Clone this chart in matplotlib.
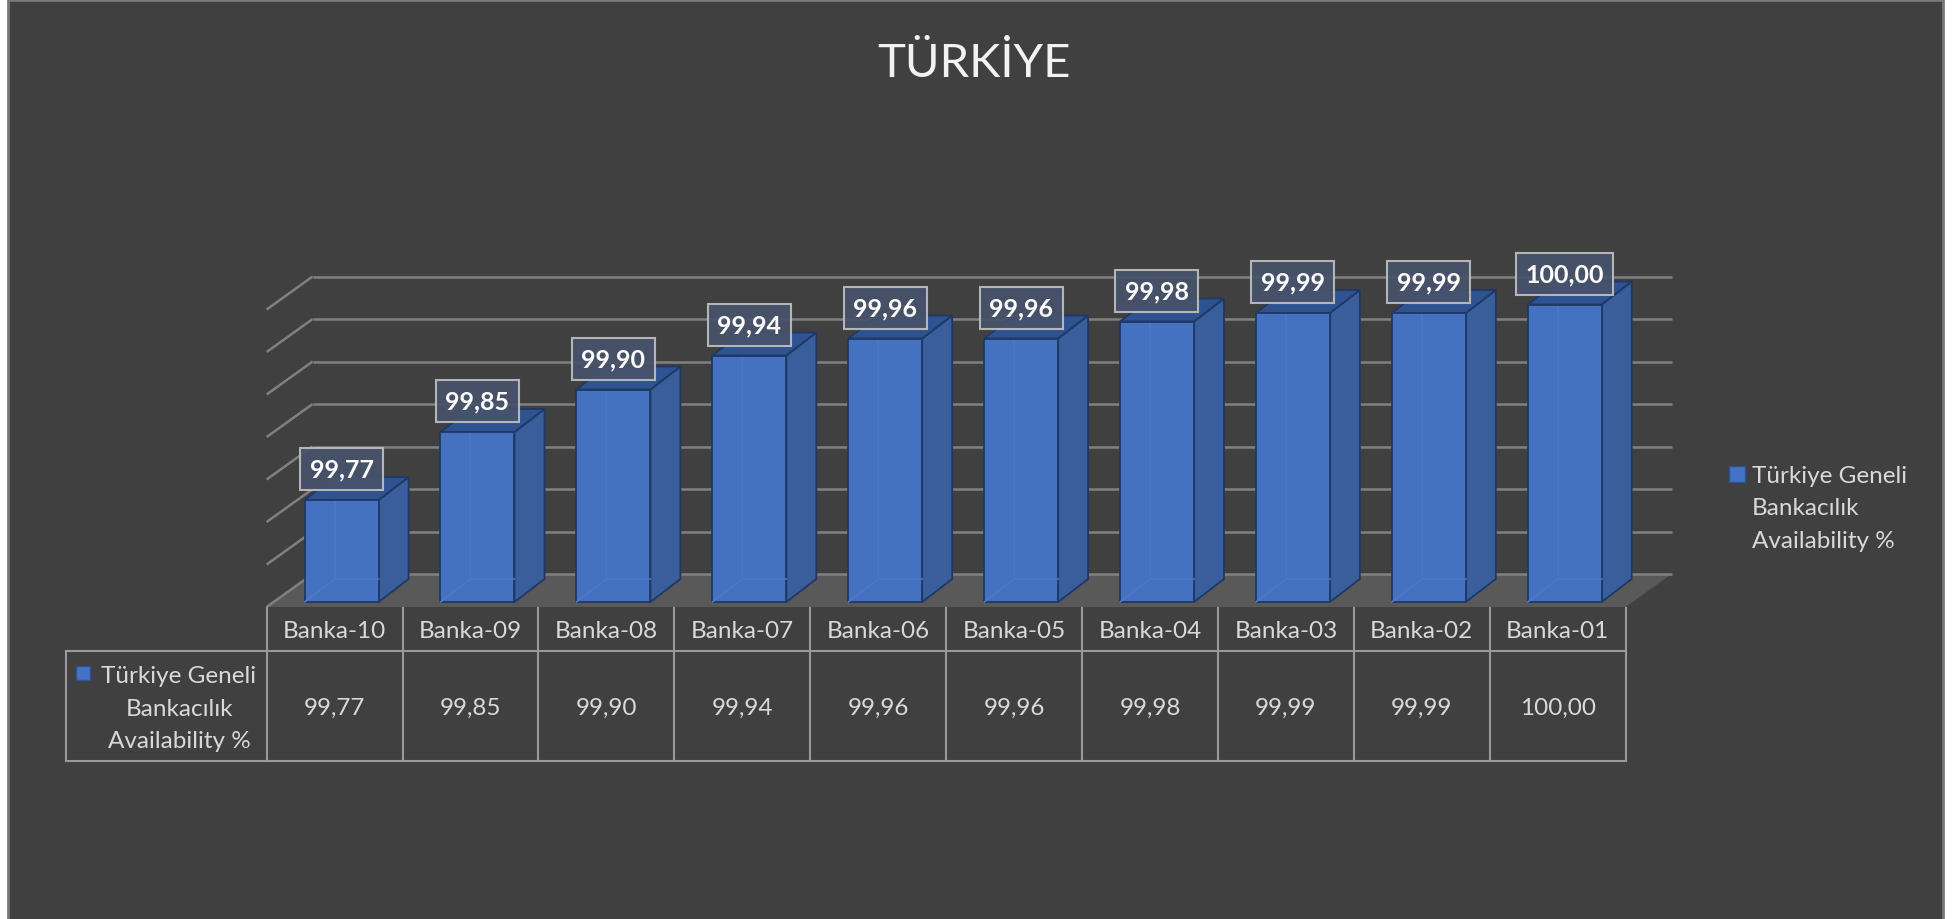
import matplotlib.pyplot as plt
from matplotlib.patches import Polygon, Rectangle
import matplotlib.transforms as mtransforms

plt.rcParams['font.family'] = ['Lato', 'DejaVu Sans']

# data
categories = ['Banka-10', 'Banka-09', 'Banka-08', 'Banka-07', 'Banka-06',
              'Banka-05', 'Banka-04', 'Banka-03', 'Banka-02', 'Banka-01']
values = [99.77, 99.85, 99.90, 99.94, 99.96, 99.96, 99.98, 99.99, 99.99, 100.00]
series_name = 'Türkiye Geneli\nBankacılık\nAvailability %'
title = 'TÜRKİYE'
y_min, y_max, y_step = 99.65, 100.00, 0.05

W, H = 1959, 920
fig = plt.figure(figsize=(W / 100, H / 100), dpi=100, facecolor='white')
ax = fig.add_axes([0, 0, 1, 1])
ax.axis('off')

# layout of the pseudo-3D plot (pixels)
x0_px, cat_px = 334.6, 135.9      # category 0 centre on floor front edge, category pitch
floor_px, unit_px = 608, 850      # floor front edge y, pixels per 1.0 of value
ax.set_xlim(-x0_px / cat_px, (W - x0_px) / cat_px)
ax.set_ylim(y_min - (H - floor_px) / unit_px, y_min + floor_px / unit_px)


def dx(p):
    return p / cat_px


def dy(p):
    return p / unit_px


def fx(p):
    return p / W


def fy(p):
    return 1 - p / H


def fmt(v):
    return f'{v:.2f}'.replace('.', ',')


BG = '#404040'
# chart area frame
ax.add_patch(Rectangle((fx(8), -0.02), fx(1935), 1.02 - 1 / H, transform=fig.transFigure,
                       fc=BG, ec='#787878', lw=2, zorder=0))

n = len(categories)
left, right = -0.5, n - 0.5
wall = (dx(46), dy(33))

# floor
ax.add_patch(Polygon([(left, y_min), (right, y_min), (right + wall[0], y_min + wall[1]),
                      (left + wall[0], y_min + wall[1])], closed=True,
                     fc='#595959', ec='none', zorder=1))

# gridlines on back wall and left side
g = y_min
while g <= y_max + 1e-9:
    ax.plot([left + wall[0], right + wall[0]], [g + wall[1], g + wall[1]],
            color='#808080', lw=1.8, zorder=2, solid_capstyle='butt')
    ax.plot([left, left + wall[0]], [g, g + wall[1]],
            color='#808080', lw=1.8, zorder=2, solid_capstyle='butt')
    g += y_step

# bars
set_back = (dx(7), dy(5))
bw = dx(74)
depth = (dx(30), dy(23))
edge = '#1f3864'
for i, v in enumerate(values):
    xl = i - bw / 2 + set_back[0]
    xr = i + bw / 2 + set_back[0]
    b = y_min + set_back[1]
    t = v + set_back[1]
    z = 3 + i * 0.01
    side = [(xr, b), (xr + depth[0], b + depth[1]), (xr + depth[0], t + depth[1]), (xr, t)]
    top = [(xl, t), (xr, t), (xr + depth[0], t + depth[1]), (xl + depth[0], t + depth[1])]
    ax.add_patch(Polygon(side, closed=True, fc='#3a5d9c', ec=edge, lw=1.3, zorder=z))
    ax.add_patch(Polygon(top, closed=True, fc='#2f5290', ec=edge, lw=1.3, zorder=z))
    ax.add_patch(Rectangle((xl, b), bw, v - y_min, fc='#4471c0', ec=edge, lw=1.3, zorder=z))
    # faint hidden edges seen through the glassy front face
    ax.plot([xl + depth[0], xl + depth[0]], [b + depth[1], t - dy(2)],
            color='#4d78c4', lw=1.2, zorder=z + 0.001)
    ax.plot([xl, xl + depth[0], xr], [b, b + depth[1], b + depth[1]],
            color='#4d78c4', lw=1.2, zorder=z + 0.001)
    ax.annotate(fmt(v), (i + set_back[0], t), xytext=(0, 31 * 0.72),
                textcoords='offset points', ha='center', va='center',
                fontsize=18, fontweight='bold', color='white', zorder=5,
                bbox=dict(boxstyle='square,pad=0.38', fc='#47536c', ec='#bfbfbf',
                          lw=1.5, alpha=0.92))

# data table
tcol = '#9a9a9a'
tr = mtransforms.blended_transform_factory(ax.transData, fig.transFigure)
for k in range(n + 1):
    ax.plot([k - 0.5, k - 0.5], [fy(609), fy(762)], color=tcol, lw=1.5,
            transform=tr, zorder=2)
ax.plot([fx(66), fx(66)], [fy(652), fy(762)], color=tcol, lw=1.5,
        transform=fig.transFigure, zorder=2)
for yy in (652, 762):
    ax.plot([left, right], [fy(yy), fy(yy)], color=tcol, lw=1.5, transform=tr, zorder=2)
    ax.plot([fx(66), fx(267)], [fy(yy), fy(yy)], color=tcol, lw=1.5,
            transform=fig.transFigure)

txt = '#d9d9d9'
for i, (c, v) in enumerate(zip(categories, values)):
    ax.text(i, fy(632), c, transform=tr, ha='center', va='center', fontsize=17.5, color=txt)
    ax.text(i, fy(708), fmt(v), transform=tr, ha='center', va='center',
            fontsize=17.5, color=txt)

# legend key inside the table
fig.text(fx(179), fy(709), series_name, ha='center', va='center', fontsize=17.5,
         color=txt, linespacing=1.65, multialignment='center')
ax.add_patch(Rectangle((fx(76), fy(681)), fx(14), 14 / H, transform=fig.transFigure,
                       fc='#4472c4', ec='#2f528f', lw=1, zorder=5))

# legend on the right
fig.text(fx(1752), fy(509), series_name, ha='left', va='center', fontsize=17.5,
         color=txt, linespacing=1.7)
ax.add_patch(Rectangle((fx(1729), fy(483)), fx(16), 16 / H, transform=fig.transFigure,
                       fc='#4472c4', ec='#2f528f', lw=1, zorder=5))

fig.text(fx(974), fy(64), title, ha='center', va='center', fontsize=34, color='#f2f2f2')

fig.savefig('out.png', dpi=100, facecolor='white')
